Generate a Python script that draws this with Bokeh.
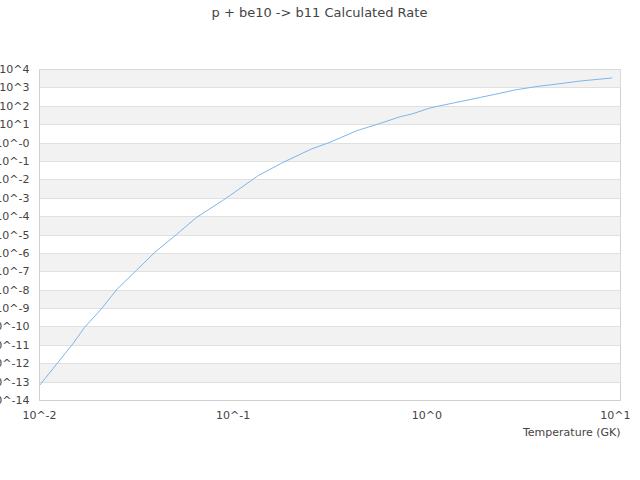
from bokeh.plotting import figure
from bokeh.models import FixedTicker, CustomJSTickFormatter, ColumnDataSource, Title
from bokeh.embed import file_html
from bokeh.resources import INLINE

# ---- data ----
temperature_gk = [0.01, 0.01486, 0.0171, 0.02085, 0.0252, 0.0316, 0.0394, 0.0509,
                  0.0647, 0.0881, 0.0961, 0.1347, 0.181, 0.254, 0.316, 0.4345,
                  0.574, 0.728, 0.837, 1.04, 1.172, 1.888, 2.864, 3.71, 4.71,
                  6.21, 9.06]
rate = [6.6e-14, 1.2e-11, 9.5e-11, 9.5e-10, 1.17e-8, 1.17e-7, 1.15e-6, 1.05e-5,
        9.1e-5, 7.4e-4, 1.38e-3, 1.7e-2, 8.9e-2, 0.48, 1.1, 4.7,
        11.7, 27, 38, 81, 107, 302, 776, 1200, 1620,
        2370, 3470]

x_tick_exponents = [-2, -1, 0, 1]
y_tick_exponents = list(range(-14, 5))

title_text = "p + be10 -> b11 Calculated Rate"
x_label = "Temperature (GK)"

FONT = "DejaVu Sans"
TEXT = "#444444"

p = figure(width=645, height=462,
           x_axis_type="log", y_axis_type="log",
           x_range=(10.0 ** x_tick_exponents[0], 10.0 ** x_tick_exponents[-1]),
           y_range=(10.0 ** y_tick_exponents[0], 10.0 ** y_tick_exponents[-1]),
           min_border_left=52, min_border_right=10,
           min_border_top=0, min_border_bottom=60,
           output_backend="svg", toolbar_location=None,
           styles={"margin-left": "-15px", "margin-top": "-2px"})

# spacer between the frame and the title (first item is nearest the frame)
spacer = Title(text=" ", text_font=FONT, text_font_size="13px", standoff=24)
main_title = Title(text=title_text, text_font=FONT, text_font_size="13px",
                   text_font_style="normal", text_color=TEXT,
                   align="left", offset=172, vertical_align="top", standoff=13)
p.add_layout(spacer, "above")
p.add_layout(main_title, "above")

src = ColumnDataSource(dict(t=temperature_gk, r=rate))
p.line("t", "r", source=src, line_color="#7cb5ec", line_width=1)

p.xaxis.ticker = FixedTicker(ticks=[10.0 ** e for e in x_tick_exponents])
p.yaxis.ticker = FixedTicker(ticks=[10.0 ** e for e in y_tick_exponents])
p.xaxis.formatter = CustomJSTickFormatter(code="""
  const e = Math.round(Math.log10(tick));
  return "10^" + e;
""")
p.yaxis.formatter = CustomJSTickFormatter(code="""
  const e = Math.round(Math.log10(tick));
  return "10^" + (e <= 0 ? "-" + Math.abs(e) : String(e));
""")

for ax in (p.xaxis, p.yaxis):
    ax.major_tick_line_color = None
    ax.minor_tick_line_color = None
    ax.axis_line_color = "#d0d0d0"
    ax.major_label_text_font = FONT
    ax.major_label_text_font_size = "11px"
    ax.major_label_text_color = TEXT

p.yaxis.major_label_standoff = 4
p.xaxis.major_label_standoff = 2

xlab = Title(text=x_label, align="right", text_font=FONT, text_font_size="11px",
             text_font_style="normal", text_color=TEXT, standoff=2,
             vertical_align="top")
p.add_layout(xlab, "below")

p.xgrid.grid_line_color = None
p.ygrid.ticker = p.yaxis.ticker
p.ygrid.grid_line_color = "#e0e0e0"
p.ygrid.band_fill_color = "#f2f2f2"
p.ygrid.band_fill_alpha = 1.0

p.outline_line_color = "#d0d0d0"
p.background_fill_color = "white"
p.border_fill_color = "white"

open("out.html", "w").write(file_html(p, INLINE))
